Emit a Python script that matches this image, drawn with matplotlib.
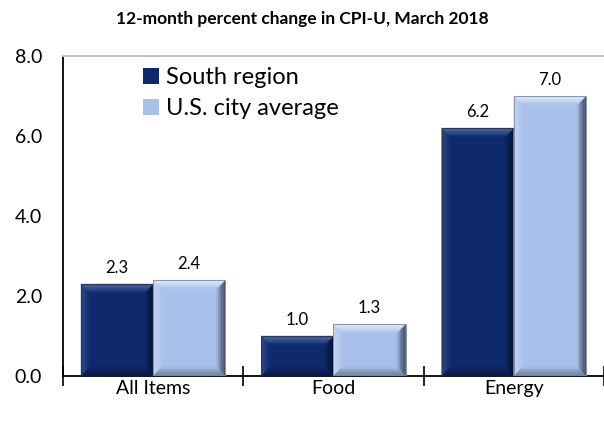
import matplotlib
matplotlib.use("Agg")
import matplotlib.pyplot as plt
from matplotlib.patches import Polygon, Rectangle
from matplotlib.colors import to_rgb
import numpy as np

plt.rcParams['font.family'] = ['Lato', 'DejaVu Sans']

categories = ['All Items', 'Food', 'Energy']
south = [2.3, 1.0, 6.2]
us_avg = [2.4, 1.3, 7.0]
series_names = ['South region', 'U.S. city average']

DARK = '#0E2A6C'
LIGHT = '#A9C1EA'


def mix(c1, c2, t):
    a, b = np.array(to_rgb(c1)), np.array(to_rgb(c2))
    return tuple(a + (b - a) * t)


def bevel(ax, bar, face, sides, edge, px=9, n=6):
    # sides: outer colours for top, left, right, bottom; fade to face inwards
    bbox = ax.get_window_extent()
    x0, x1 = ax.get_xlim()
    y0, y1 = ax.get_ylim()
    dx = px * (x1 - x0) / bbox.width
    dy = px * (y1 - y0) / bbox.height
    xa, w, h = bar.get_x(), bar.get_width(), bar.get_height()
    xb, ya, yb = xa + w, 0, h
    for k in range(n):
        i0, i1 = k / n, (k + 1) / n

        def box(i):
            return xa + dx * i, xb - dx * i, ya + dy * i, yb - dy * i
        l0, r0, b0, t0 = box(i0)
        l1, r1, b1_, t1 = box(i1)
        polys = {
            'top': [(l0, t0), (r0, t0), (r1, t1), (l1, t1)],
            'left': [(l0, b0), (l0, t0), (l1, t1), (l1, b1_)],
            'right': [(r0, b0), (r0, t0), (r1, t1), (r1, b1_)],
            'bottom': [(l0, b0), (r0, b0), (r1, b1_), (l1, b1_)],
        }
        t = ((k + 0.5) / n) ** 1.6
        for side in ['left', 'right', 'bottom', 'top']:
            c = mix(sides[side], face, t)
            ax.add_patch(Polygon(polys[side], closed=True, facecolor=c,
                                 edgecolor=c, linewidth=0.3, zorder=3))
    ax.add_patch(Rectangle((xa, ya), w, h, facecolor='none', edgecolor=edge,
                           linewidth=0.7, zorder=4))


fig = plt.figure(figsize=(6.04, 4.30), dpi=100)
ax = fig.add_axes([0.1043, 0.1256, 0.8957, 0.744])

x = np.arange(len(categories))
w = 0.4
b1 = ax.bar(x - w / 2, south, w, color=DARK, label=series_names[0], zorder=2)
b2 = ax.bar(x + w / 2, us_avg, w, color=LIGHT, label=series_names[1], zorder=2)

ax.set_xlim(-0.5, 2.5)
ax.set_ylim(0, 8)

for bar in b1:
    bevel(ax, bar, DARK, {'top': '#4563A3', 'left': '#2A4687',
                          'right': '#06153A', 'bottom': '#081B4A'}, '#2c3652')
for bar in b2:
    bevel(ax, bar, LIGHT, {'top': '#DCE8F9', 'left': '#C3D4F1',
                           'right': '#465270', 'bottom': '#74829E'}, '#8a96ad')

for bars, vals in [(b1, south), (b2, us_avg)]:
    for bar, v in zip(bars, vals):
        ax.annotate(f'{v:.1f}', (bar.get_x() + bar.get_width() / 2, v),
                    xytext=(0, 6), textcoords='offset points',
                    ha='center', va='bottom', fontsize=12)

ax.set_yticks([0, 2, 4, 6, 8])
ax.set_yticklabels([f'{v:.1f}' for v in [0, 2, 4, 6, 8]], fontsize=14)
ax.tick_params(axis='y', length=0, pad=15)

ax.set_xticks(x)
ax.set_xticklabels(categories, fontsize=14)
ax.set_xticks([-0.5, 0.5, 1.5, 2.5], minor=True)
ax.tick_params(axis='x', which='major', length=0, pad=3)
ax.tick_params(axis='x', which='minor', direction='inout', length=14, width=1.2)

ax.spines['right'].set_visible(False)
ax.spines['top'].set_color('#C0C0C0')
ax.spines['top'].set_linewidth(1.5)
ax.spines['left'].set_linewidth(1.3)
ax.spines['bottom'].set_linewidth(1.3)

ax.legend(loc='upper left', bbox_to_anchor=(0.13, 0.995), frameon=False,
          fontsize=17, handlelength=0.7, handleheight=0.7, handletextpad=0.3,
          labelspacing=0.42, borderaxespad=0)

fig.suptitle('12-month percent change in CPI-U, March 2018', fontsize=12.5,
             fontweight='bold', y=0.975)

fig.savefig('out.png', dpi=100)
